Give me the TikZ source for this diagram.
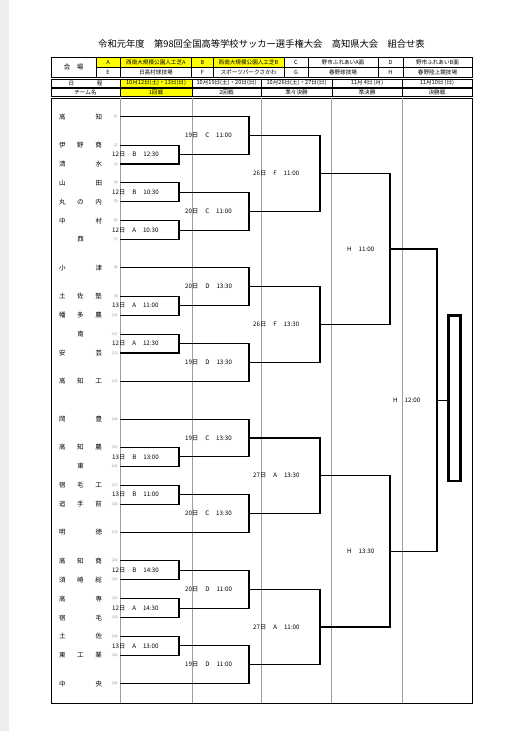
\documentclass[tikz,border=0pt]{standalone}
\usepackage{fontspec}
\setmainfont{Noto Sans CJK JP}
\usetikzlibrary{positioning, calc}
\definecolor{hiyellow}{RGB}{255,255,0}
\newcommand{\mg}{\hspace{7pt}}

\begin{document}
\begin{tikzpicture}[x=1pt, y=-1pt,
    bracket/.style={draw, line width=1.1pt},
    colline/.style={draw=gray!75, line width=0.6pt},
    band/.style={draw, line width=1pt},
    cell/.style={draw, line width=0.5pt},
    hdr/.style={font=\fontsize{5.6}{6}\selectfont, inner sep=0pt},
    team/.style={font=\fontsize{6.5}{7}\selectfont, inner sep=0pt},
    teamno/.style={font=\fontsize{3.4}{4}\selectfont, text=gray, anchor=east, inner sep=0pt},
    match/.style={font=\fontsize{6.2}{7}\selectfont, anchor=west, inner sep=0pt}
  ]
  \useasboundingbox (0,0) rectangle (520,731);
  \fill[black!7] (0,0) rectangle (9,731);

  % title
  \node[font=\fontsize{9.3}{11}\selectfont] (title) at (261.5,44)
    {令和元年度　第98回全国高等学校サッカー選手権大会　高知県大会　組合せ表};

  % venues
  \fill[hiyellow] (96,57) rectangle (284,67.3);
  \draw[band] (51,57) rectangle (472,77.5);
  \draw[cell] (96,57) -- (96,77.5) (96,67.3) -- (472,67.3);
  \foreach \x in {120,191.7,213,284,308,378,403}
    \draw[cell] (\x,57) -- (\x,77.5);
  \node[hdr, font=\fontsize{6.5}{7}\selectfont] (venue) at (73.5,67.2) {会　場};
  \foreach \x/\t [count=\i] in {108/A, 155.9/西南大規模公園人工芝A, 202.4/B,
      248.5/西南大規模公園人工芝B, 296/C, 343/野市ふれあいA面, 390.5/D,
      437.5/野市ふれあいB面}
    \node[hdr] (va\i) at (\x,62.2) {\t};
  \foreach \x/\t [count=\i] in {108/E, 155.9/日高村球技場, 202.4/F,
      248.5/スポーツパークさかわ, 296/G, 343/春野球技場, 390.5/H,
      437.5/春野陸上競技場}
    \node[hdr] (vb\i) at (\x,72.4) {\t};

  % dates and rounds
  \fill[hiyellow] (120,79) rectangle (192,87);
  \fill[hiyellow] (120,88.5) rectangle (192,96.5);
  \draw[band] (51,79) rectangle (472,87);
  \draw[band] (51,88.5) rectangle (472,96.5);
  \foreach \x in {120,192,261,332,402}
    \draw[cell] (\x,79) -- (\x,87) (\x,88.5) -- (\x,96.5);
  \foreach \x/\t [count=\i] in {85.5/\makebox[34pt][s]{日\hfill 程},
      156/10月12日(土)・13日(日), 226.5/10月19日(土)・20日(日),
      296.5/10月26日(土)・27日(日), 367/11月 4日 (月), 437/11月10日 (日)}
    \node[hdr] (d\i) at (\x,83) {\t};
  \foreach \x/\t [count=\i] in {85.5/チーム名, 156/1回戦, 226.5/2回戦,
      296.5/準々決勝, 367/準決勝, 437/決勝戦}
    \node[hdr] (rd\i) at (\x,92.5) {\t};

  % body
  \draw[band] (51,98) rectangle (472,703);
  \foreach \x in {120,192,261,331,402}
    \draw[colline] (\x,98) -- (\x,703);

  \node[draw, line width=1.1pt, minimum width=13pt, minimum height=166.7pt,
    inner sep=0pt] (champ) at (454.5,398.3) {};
  \draw[line width=0.6pt] ($(champ.south west)+(2.2,-2.2)$)
    rectangle ($(champ.north east)+(-2.2,2.2)$);

  \begin{scope}[yshift=-116.7pt, y=-9.45pt]
    % teams
    \foreach \k/\nm [count=\i] in {0/高\hfill 知, 3/伊\hfill 野\hfill 商,
        5/清\hfill 水, 7/山\hfill 田, 9/丸\hfill の\hfill 内, 11/中\hfill 村,
        13/\hfill 西\hfill, 16/小\hfill 津, 19/土\hfill 佐\hfill 塾,
        21/幡\hfill 多\hfill 農, 23/\hfill 南\hfill, 25/安\hfill 芸,
        28/高\hfill 知\hfill 工, 32/岡\hfill 豊, 35/高\hfill 知\hfill 農,
        37/\hfill 東\hfill, 39/宿\hfill 毛\hfill 工, 41/追\hfill 手\hfill 前,
        44/明\hfill 徳, 47/高\hfill 知\hfill 商, 49/須\hfill 崎\hfill 総,
        51/高\hfill 専, 53/宿\hfill 毛, 55/土\hfill 佐,
        57/東\hfill 工\hfill 業, 60/中\hfill 央}
    {
      \node[team] (t\i) at (80.5,\k) {\makebox[43pt][s]{\nm}};
      \node[teamno] (n\i) at (118,\k) {(\i)};
      \coordinate (p\i) at (120,\k);
    }

    % 1st round
    \foreach \a/\b/\km/\lab [count=\i] in {p2/p3/4/12日\mg B\mg 12:30,
        p4/p5/8/12日\mg B\mg 10:30, p6/p7/12/12日\mg A\mg 10:30,
        p9/p10/20/13日\mg A\mg 11:00, p11/p12/24/12日\mg A\mg 12:30,
        p15/p16/36/13日\mg B\mg 13:00, p17/p18/40/13日\mg B\mg 11:00,
        p20/p21/48/12日\mg B\mg 14:30, p22/p23/52/12日\mg A\mg 14:30,
        p24/p25/56/13日\mg A\mg 13:00}
    {
      \coordinate (f\i) at (179,\km);
      \draw[bracket] (\a) -| (f\i) |- (\b);
      \node[match] (m\i) at (112,\km) {\lab};
    }

    % 2nd round
    \foreach \a/\b/\km/\lab [count=\i] in {p1/f1/2/19日\mg C\mg 11:00,
        f2/f3/10/20日\mg C\mg 11:00, p8/f4/18/20日\mg D\mg 13:30,
        f5/p13/26/19日\mg D\mg 13:30, p14/f6/34/19日\mg C\mg 13:30,
        f7/p19/42/20日\mg C\mg 13:30, f8/f9/50/20日\mg D\mg 11:00,
        f10/p26/58/19日\mg D\mg 11:00}
    {
      \coordinate (s\i) at (249,\km);
      \draw[bracket] (\a) -| (s\i) |- (\b);
      \node[match] (r\i) at (185,\km) {\lab};
    }

    % quarter finals
    \foreach \a/\b/\km/\lab [count=\i] in {s1/s2/6/26日\mg F\mg 11:00,
        s3/s4/22/26日\mg F\mg 13:30, s5/s6/38/27日\mg A\mg 13:30,
        s7/s8/54/27日\mg A\mg 11:00}
    {
      \coordinate (q\i) at (320,\km);
      \draw[bracket] (\a) -| (q\i) |- (\b);
      \node[match] (qf\i) at (253,\km) {\lab};
    }

    % semi finals
    \foreach \a/\b/\km/\lab [count=\i] in {q1/q2/14/H\mg 11:00,
        q3/q4/46/H\mg 13:30}
    {
      \coordinate (h\i) at (390,\km);
      \draw[bracket] (\a) -| (h\i) |- (\b);
      \node[match] (sf\i) at (347,\km) {\lab};
    }

    % final
    \coordinate (fin) at (437,30);
    \draw[bracket] (h1) -| (fin) |- (h2);
    \draw[bracket] (fin) -- (fin -| champ.west);
    \node[match] (fl) at (393,30) {H\mg 12:00};
  \end{scope}
\end{tikzpicture}
\end{document}
